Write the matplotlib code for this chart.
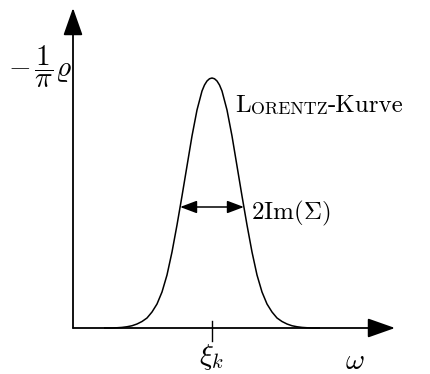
import numpy as np
import matplotlib
matplotlib.use("Agg")
import matplotlib.pyplot as plt

plt.rcParams["mathtext.fontset"] = "cm"
plt.rcParams["axes.unicode_minus"] = False

# Half profile of the spectral peak: distance from xi_k and height (peak = 1)
offset = [0.0, 0.05, 0.1, 0.15, 0.2, 0.3, 0.4, 0.5, 0.6, 0.7, 0.8, 0.9,
          1.0, 1.1, 1.2, 1.3, 1.4, 1.5, 1.6, 1.7, 1.8, 1.9, 2.0, 2.16]
height = [1.0, 0.997, 0.988, 0.972, 0.948, 0.872, 0.768, 0.648, 0.528,
          0.412, 0.304, 0.212, 0.144, 0.096, 0.064, 0.04, 0.026, 0.016,
          0.009, 0.005, 0.0024, 0.001, 0.0, 0.0]
xi_k = 0.0
omega_range = [-2.78, 3.66]   # axis origin and tip of the omega arrow
rho_top = 1.28                # tip of the vertical arrow

offset = np.asarray(offset)
height = np.asarray(height)
omega = np.concatenate([xi_k - offset[::-1], xi_k + offset[1:]])
rho = np.concatenate([height[::-1], height[1:]])

W, H = 430, 374
fig = plt.figure(figsize=(W / 100, H / 100), dpi=100)
ax = fig.add_axes([0, 0, 1, 1])
ax.set_xlim(-4.24, 4.36)
ax.set_ylim(-0.184, 1.312)
ax.axis("off")


def px(x, y):
    """Figure pixel position (origin top left) -> axes fraction."""
    return x / W, 1 - y / H


axis_arrow = dict(arrowstyle="-|>,head_length=0.85,head_width=0.3",
                  mutation_scale=20, color="black", lw=1.3,
                  shrinkA=0, shrinkB=0)
ax.annotate("", xy=(omega_range[1], 0), xytext=(omega_range[0], 0),
            arrowprops=axis_arrow)
ax.annotate("", xy=(omega_range[0], rho_top), xytext=(omega_range[0], 0),
            arrowprops=axis_arrow)

# spectral curve
ax.plot(omega, rho, color="black", lw=1.1, solid_capstyle="butt")

# tick at xi_k
ax.plot([xi_k, xi_k], [-0.052, 0.028], color="black", lw=1.0)

# full width at half maximum
half = 0.484 * height.max()
order = np.argsort(height)
hw = np.interp(half, height[order], offset[order])
ax.annotate("", xy=(xi_k + hw, half), xytext=(xi_k - hw, half),
            arrowprops=dict(arrowstyle="<|-|>,head_length=0.85,head_width=0.32",
                            mutation_scale=12, color="black", lw=1.1,
                            shrinkA=0, shrinkB=0))

fs = 18
ax.text(*px(251, 209), r"$2\mathrm{Im}(\Sigma)$", transform=ax.transAxes,
        fontsize=fs, ha="left", va="center_baseline")

# small-caps name followed by the rest of the label
t1 = ax.text(*px(235, 112), "L", transform=ax.transAxes, fontsize=fs,
             family="cmr10", ha="left", va="baseline")
t2 = ax.annotate("ORENTZ", xy=(1, 0), xycoords=t1, fontsize=fs * 0.72,
                 family="cmr10", ha="left", va="bottom")
ax.annotate("-Kurve", xy=(1, 0), xycoords=t2, fontsize=fs,
            family="cmr10", ha="left", va="bottom")

ax.text(*px(212, 342), r"$\xi_k$", transform=ax.transAxes, fontsize=21,
        ha="center", va="top")
ax.text(*px(355, 361), r"$\omega$", transform=ax.transAxes, fontsize=21,
        ha="center", va="center")
ax.text(*px(40, 67), r"$-\,\dfrac{1}{\pi}\varrho$", transform=ax.transAxes,
        fontsize=21, ha="center", va="center")

fig.savefig("out.png", dpi=100)
